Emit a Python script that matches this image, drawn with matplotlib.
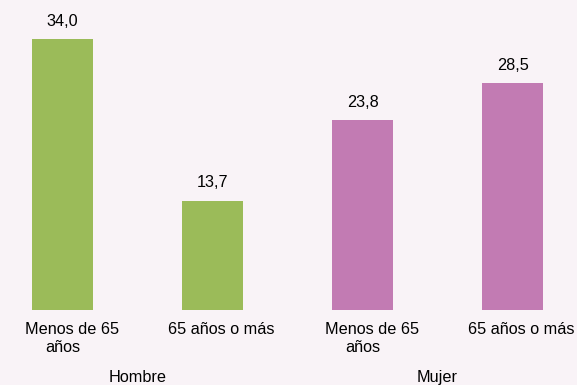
import matplotlib.pyplot as plt

linea1 = ['Menos de 65', '65 años o más', 'Menos de 65', '65 años o más']
linea2 = ['años', '', 'años', '']
grupos = ['Hombre', 'Mujer']
valores = [34.0, 13.7, 23.8, 28.5]
colores = ['#9BBB59', '#9BBB59', '#C27BB3', '#C27BB3']
fondo = '#F9F3F7'

plt.rcParams['font.family'] = ['Liberation Sans', 'DejaVu Sans']

fig = plt.figure(figsize=(5.77, 3.85), dpi=100, facecolor=fondo)
ax = fig.add_axes([0, 75 / 385, 1, 310 / 385])
ax.set_facecolor(fondo)

x = list(range(len(valores)))
bars = ax.bar(x, valores, width=0.41, color=colores)
for b, v in zip(bars, valores):
    ax.text(b.get_x() + b.get_width() / 2, v + 1.3, f'{v:.1f}'.replace('.', ','),
            ha='center', va='bottom', fontsize=11.7)

ax.set_xlim(-0.4167, 3.43)
ax.set_ylim(0, 38.9)
ax.set_xticks([])
ax.set_yticks([])
for s in ax.spines.values():
    s.set_visible(False)

# etiquetas de categoria (la primera linea va un poco corrida a la derecha, como en el original)
tr = ('data', 'axes fraction')
for i in x:
    ax.annotate(linea1[i], (i, 0), xycoords=tr, xytext=(6.5, -14.4),
                textcoords='offset points', ha='center', va='center', fontsize=11.7)
    if linea2[i]:
        ax.annotate(linea2[i], (i, 0), xycoords=tr, xytext=(0, -27),
                    textcoords='offset points', ha='center', va='center', fontsize=11.7)

# etiquetas de grupo
for i, g in enumerate(grupos):
    ax.annotate(g, (2 * i + 0.5, 0), xycoords=tr, xytext=(0, -48.6),
                textcoords='offset points', ha='center', va='center', fontsize=11.7)

fig.savefig('out.png', dpi=100, facecolor=fondo)
